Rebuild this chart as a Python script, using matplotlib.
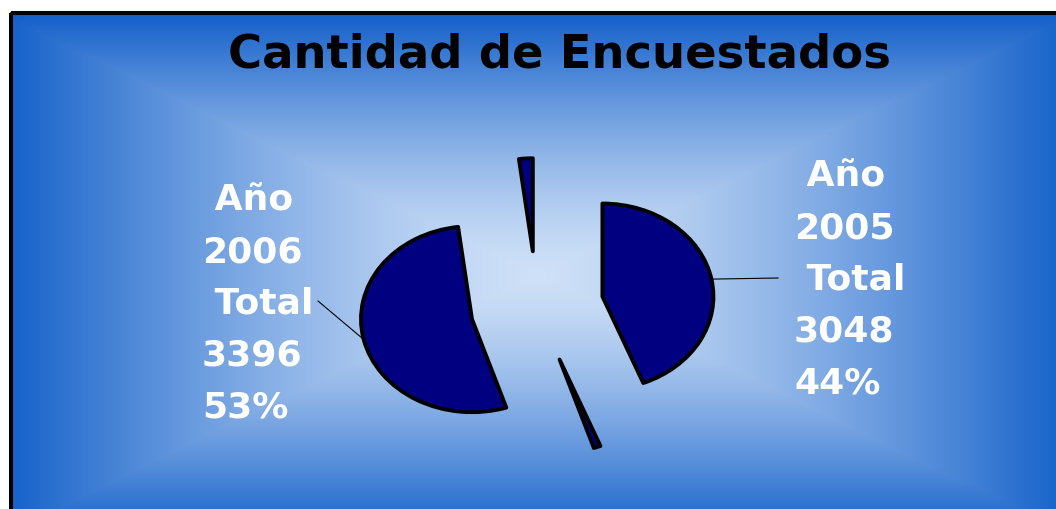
import numpy as np
import matplotlib.pyplot as plt
from matplotlib.patches import Rectangle

plt.rcParams['font.family'] = ['DejaVu Sans']

# datos
slice_years = ['2005', '', '2006', '']
slice_totals = [3048, 0, 3396, 0]
slice_pcts = [44, 1, 53, 2]
title = 'Cantidad de Encuestados'

W, H = 1056, 510
fig = plt.figure(figsize=(W / 100, H / 100), dpi=100)

# fondo con degradado rectangular desde el centro
bg = fig.add_axes([0, 0, 1, 1])
bg.set_xlim(0, W)
bg.set_ylim(H, 0)
bg.axis('off')
yy, xx = np.mgrid[0:H, 0:W]
cx, cy, hw, hh = 537, 275, 530, 258
t = np.maximum(np.abs(xx - cx) / hw, np.abs(yy - cy) / hh).clip(0, 1) ** 1.4
c0 = np.array([0.81, 0.88, 0.97])
c1 = np.array([0.08, 0.38, 0.79])
img = c0 * (1 - t)[..., None] + c1 * t[..., None]
img[(xx < 10) | (yy < 13)] = 1.0
bg.imshow(img, extent=(0, W, H, 0), aspect='auto', interpolation='bilinear')
bg.add_patch(Rectangle((11, 14), 1300, 800, fill=False, lw=2.9, ec='black'))

bg.text(559, 55, title, ha='center', va='center', fontsize=33.5,
        weight='bold', color='black')

# pastel explotado (eliptico)
rx, ry, pcx, pcy = 111, 93, 537, 308
ax = fig.add_axes([0, 0, 1, 1])
ax.patch.set_alpha(0)
wedges, _ = ax.pie(slice_pcts, explode=[0.6] * len(slice_pcts), startangle=90,
                   counterclock=False, colors=['#000080'] * len(slice_pcts),
                   wedgeprops=dict(edgecolor='black', linewidth=2.8,
                                   joinstyle='round'))
ax.set_aspect('auto')
ax.set_xlim(-pcx / rx, (W - pcx) / rx)
ax.set_ylim(-(H - pcy) / ry, pcy / ry)
ax.axis('off')


def px(x, y):
    return (x - pcx) / rx, (pcy - y) / ry


def edge_point(w):
    a = np.deg2rad((w.theta1 + w.theta2) / 2)
    return w.center[0] + np.cos(a), w.center[1] + np.sin(a)


# etiquetas
label_pos = {0: (794, 280), 2: (202, 304)}
leader_end = {0: (778, 279), 2: (318, 302)}
for i, w in enumerate(wedges):
    if not slice_years[i]:
        continue
    lines = [' Año', slice_years[i], ' Total', str(slice_totals[i]),
             f'{slice_pcts[i]}%']
    x, y = label_pos[i]
    bg.text(x, y, '\n'.join(lines), ha='left', va='center', fontsize=26,
            weight='bold', color='white', linespacing=1.665)
    sx, sy = edge_point(w)
    ex, ey = px(*leader_end[i])
    ax.plot([sx, ex], [sy, ey], color='black', lw=0.8)

fig.savefig('out.png', dpi=100)
